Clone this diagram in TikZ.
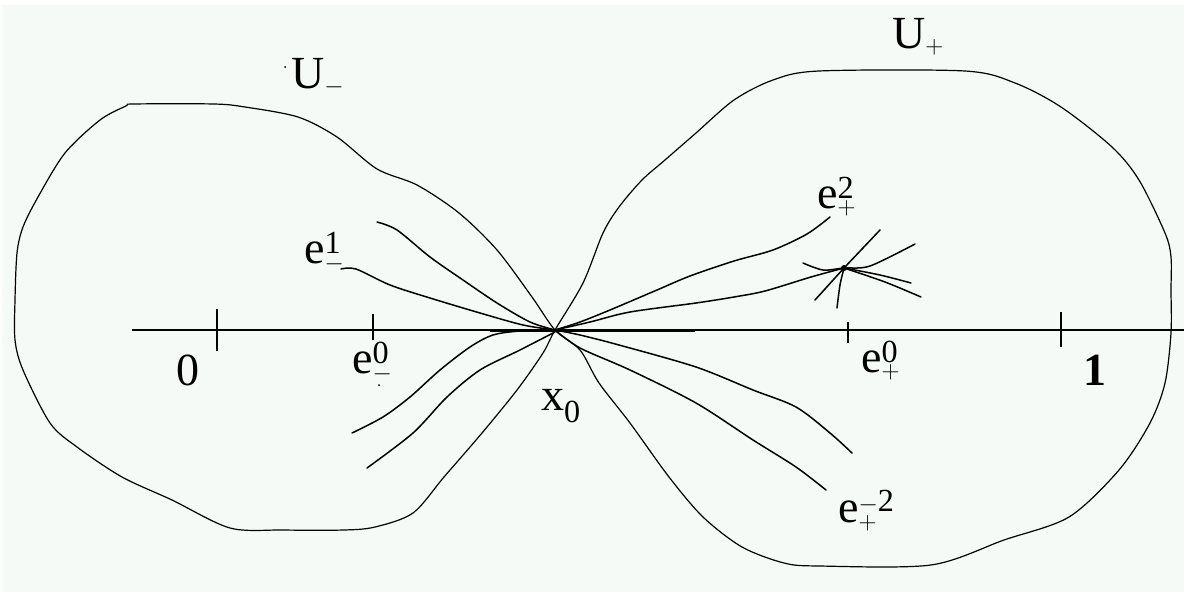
\documentclass[tikz,border=0pt]{standalone}
\usepackage{fontspec}
\setmainfont{Liberation Serif}
\definecolor{bgc}{RGB}{245,250,247}
\tikzset{
  lbl/.style={font=\fontsize{46}{50}\selectfont, inner sep=0pt, anchor=base west},
  bnd/.style={line width=1.2pt, line join=round},
  traj/.style={line width=1.5pt, line cap=round},
  axisline/.style={line width=1.5pt},
  tickmark/.style={line width=1.3pt},
  heavy/.style={line width=3pt}
}
\begin{document}
\begin{tikzpicture}[x=1pt,y=-1pt]
\useasboundingbox (0,0) rectangle (1184,592);
\fill[white] (0,0) rectangle (1184,592);
\fill[bgc] (2,5) rectangle (1184,592);

% figure-eight boundary
\draw[bnd] plot[smooth cycle, tension=0.5] coordinates {
 (555,330) (580,350) (599,383) (630,423) (669,477) (703,517) (742,547) (784,563) (819,566)
 (931,565) (1004,540) (1069,517) (1119,470) (1150,423) (1165,383) (1171,333) (1171,290)
 (1171,257) (1165,233) (1139,180) (1112,147) (1061,107) (1015,83) (965,71) (819,71)
 (773,80) (734,100) (696,133) (665,160) (642,180) (619,207) (603,233) (583,283)
 (555,330) (543,353) (517,390) (482,433) (444,477) (413,513) (375,527) (344,530)
 (283,530) (230,528) (172,500) (122,477) (77,447) (50,423) (23,370) (15,340) (15,300)
 (17,253) (23,227) (38,197) (65,153) (100,120) (126,106) (134,104) (214,104) (245,107)
 (298,117) (337,137) (377,169) (417,185) (459,213) (497,250) (532,297)};

% axis and ticks
\coordinate (axL) at (132,330);
\coordinate (axR) at (1184,330);
\draw[axisline] (axL) -- (axR);
\coordinate (x0) at (555,330);
\draw[heavy] (490,330) -- (x0) -- (695,330);
\draw[tickmark] (217,309) -- (217,351);
\draw[tickmark] (373,314) -- (373,340);
\draw[tickmark] (848,322) -- (848,343);
\draw[tickmark] (1061,312) -- (1061,347);

% trajectories
\draw[traj] plot[smooth] coordinates {(341,269) (356,269) (390,285) (430,298) (480,313) (523,325) (555,330)};
\draw[traj] plot[smooth] coordinates {(377,222) (397,230) (430,257) (463,280) (497,303) (530,322) (555,330)};
\draw[traj] plot[smooth] coordinates {(352,433) (383,417) (410,397) (440,370) (470,347) (493,335) (520,331) (555,330)};
\draw[traj] plot[smooth] coordinates {(367,468) (413,433) (447,397) (480,370) (520,350) (555,332)};
\draw[traj] plot[smooth] coordinates {(555,330) (580,322) (610,310) (657,290) (690,276) (734,261) (773,250) (807,234) (830,217)};
\coordinate (N) at (844,268);
\draw[traj] plot[smooth] coordinates {(555,330) (590,322) (630,312) (696,303) (734,297) (765,291) (811,277) (N)};
\draw[traj] plot[smooth] coordinates {(555,330) (580,335) (619,345) (696,367) (753,390) (796,407) (830,433) (852,453)};
\draw[traj] plot[smooth] coordinates {(555,330) (580,348) (630,370) (696,403) (753,440) (796,467) (826,490)};

% star at node
\draw[traj] (815,300) -- (N) -- (880,230);
\draw[traj] plot[smooth] coordinates {(N) (840,285) (837,308)};
\draw[traj] plot[smooth] coordinates {(803,263) (823,270) (N) (870,266) (915,244)};
\draw[traj] plot[smooth] coordinates {(N) (880,275) (911,283)};
\draw[traj] plot[smooth] coordinates {(N) (885,282) (921,297)};
\fill (N) circle (3);

% stray dots
\fill (285,67) circle (1);
\fill (379,385) circle (1);

% labels
\node[lbl] (Um) at (291,88) {$\mathrm{U}_{-}$};
\node[lbl] (Up) at (892,48) {$\mathrm{U}_{+}$};
\node[lbl] (e1m) at (304,263) {$\mathrm{e}^{\mathrm{1}}_{-}$};
\node[lbl] (e2p) at (817,208) {$\mathrm{e}^{\mathrm{2}}_{+}$};
\node[lbl] (e0m) at (352,373) {$\mathrm{e}^{\mathrm{0}}_{-}$};
\node[lbl] (x0l) at (541,410) {$\mathrm{x}_{\mathrm{0}}$};
\node[lbl] (e0p) at (861,372) {$\mathrm{e}^{\mathrm{0}}_{+}$};
\node[lbl] (em2p) at (838,522) {$\mathrm{e}^{-\mathrm{2}}_{+}$};
\node[lbl] (zero) at (176,385) {0};
\node[lbl] (one) at (1083,385) {\textbf{1}};
\end{tikzpicture}
\end{document}
